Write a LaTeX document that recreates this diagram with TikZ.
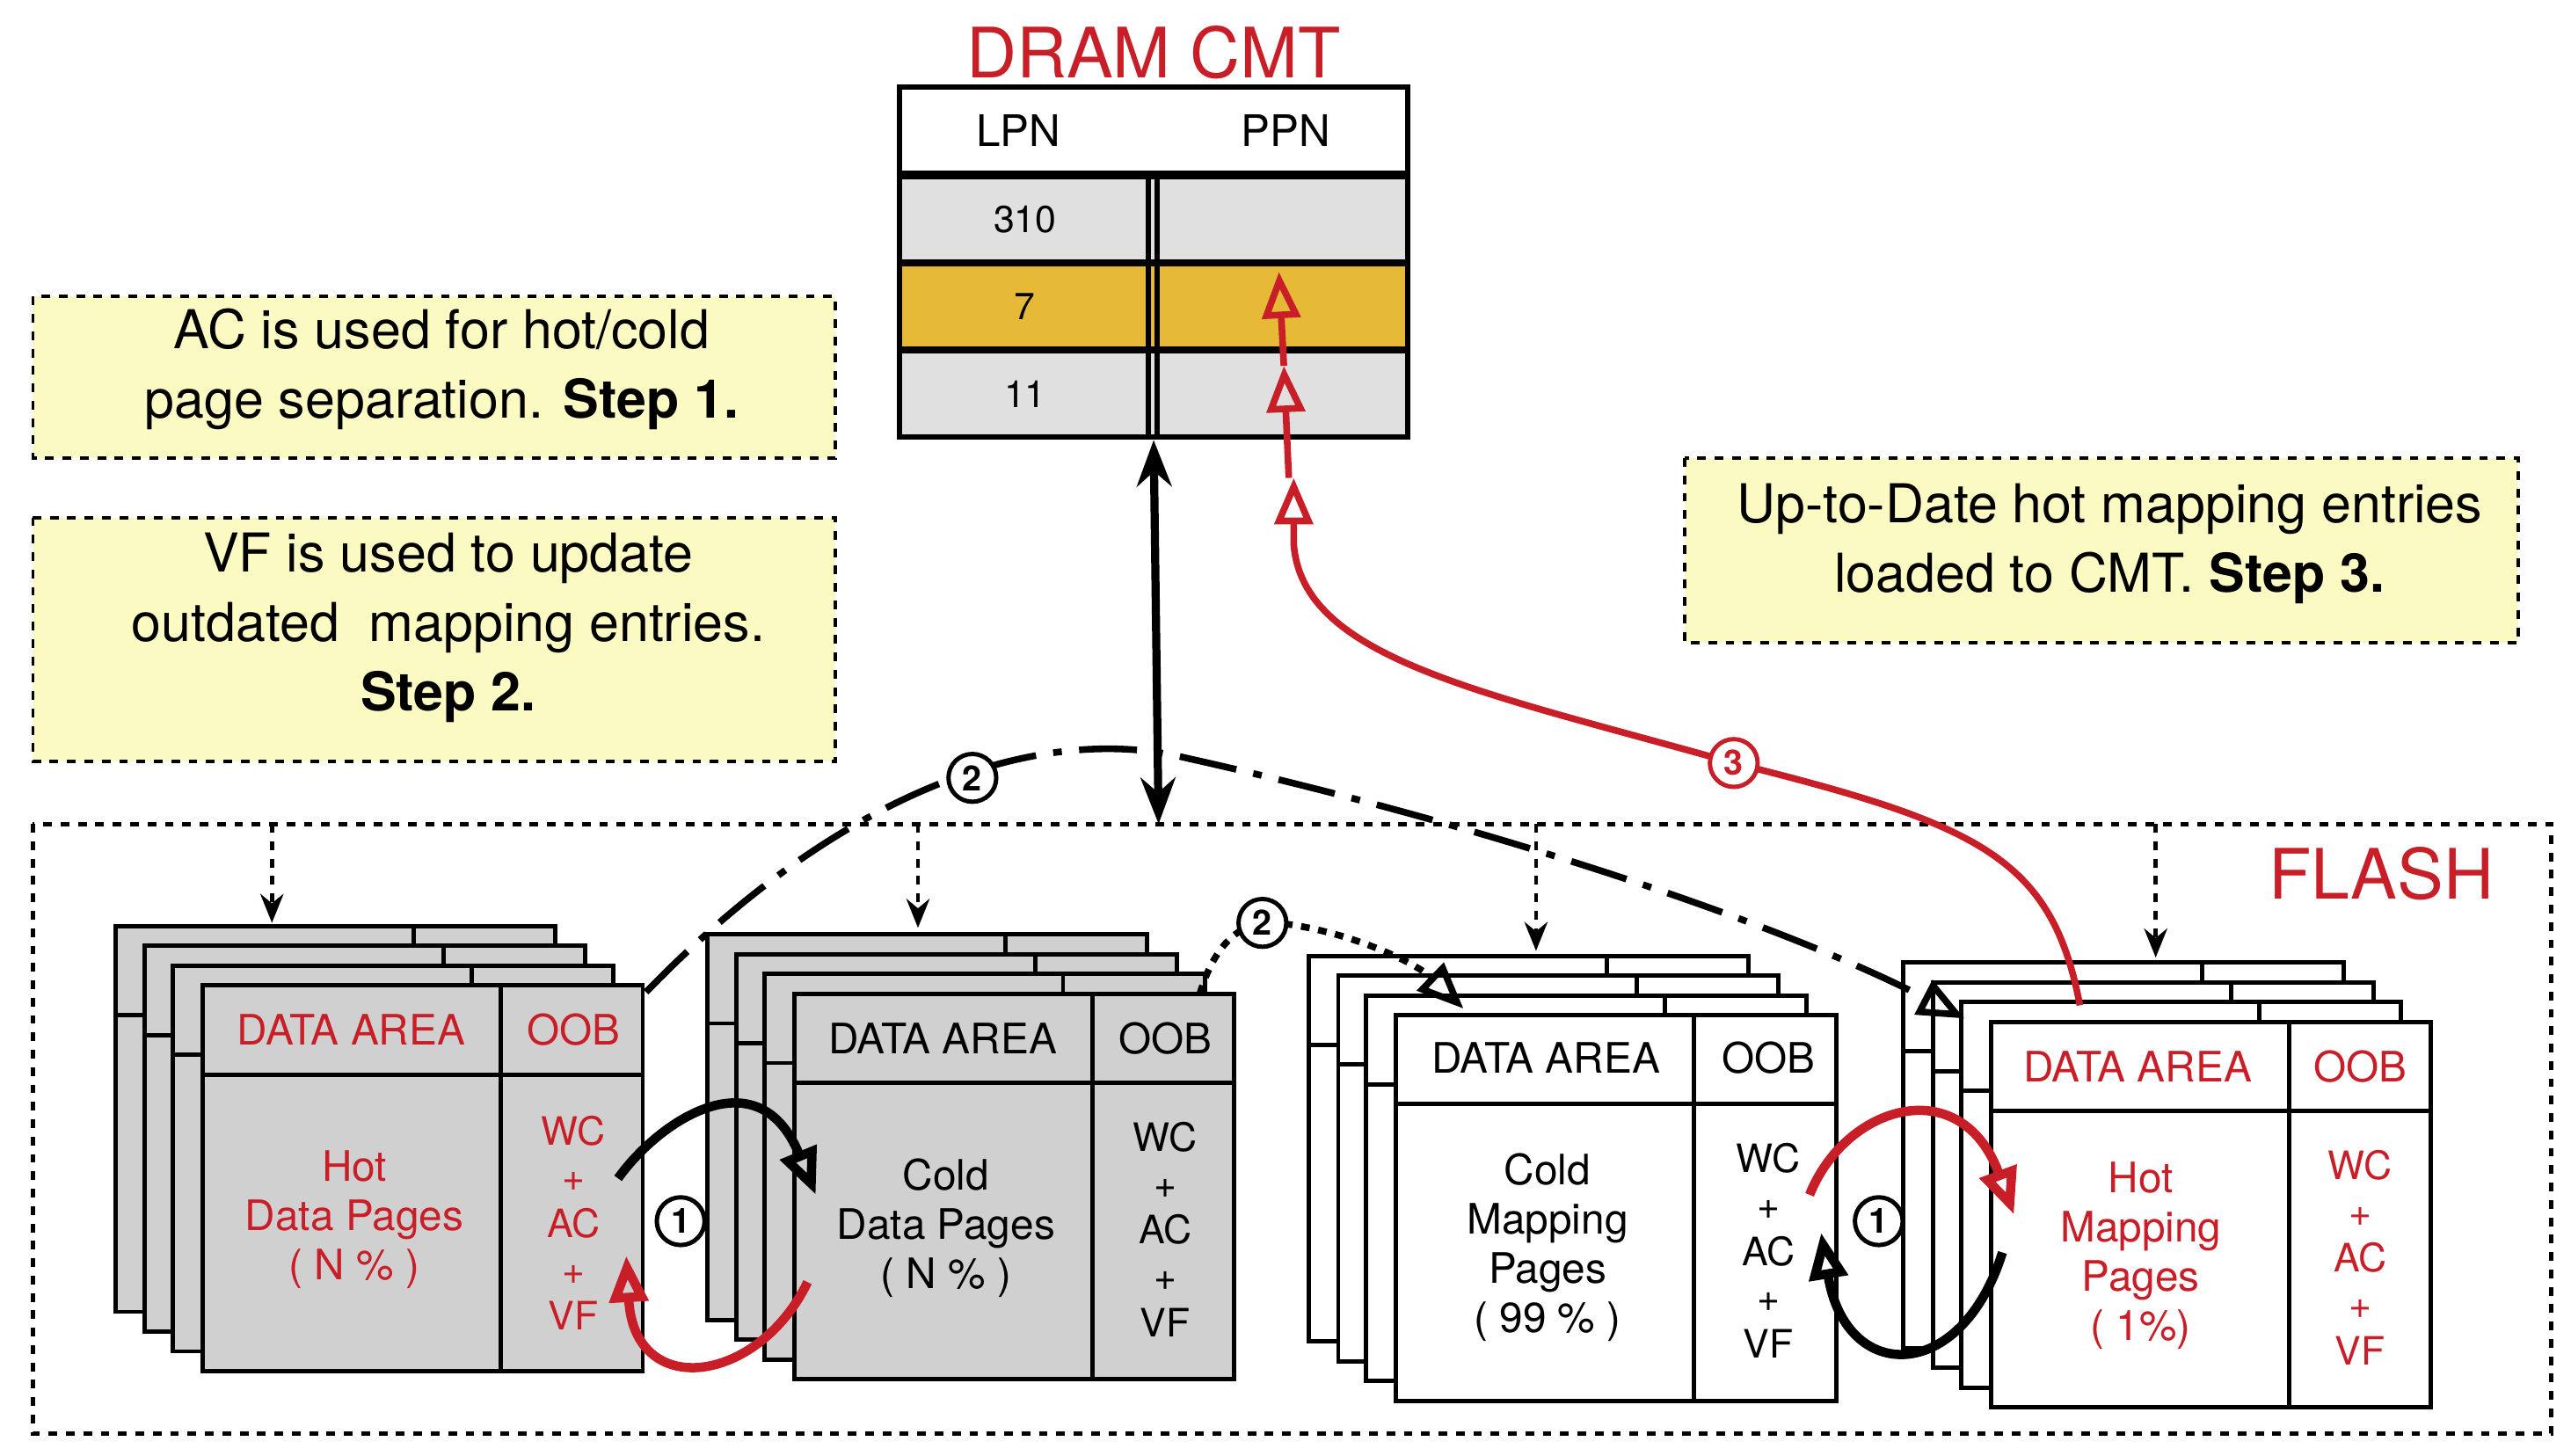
\documentclass[tikz,border=0pt]{standalone}
\usepackage{fontspec}
\setmainfont{TeX Gyre Heros}
\usetikzlibrary{arrows.meta}
\definecolor{myred}{RGB}{200,30,40}
\definecolor{note}{RGB}{252,250,195}
\definecolor{cellg}{RGB}{224,224,224}
\definecolor{pg}{RGB}{208,208,208}
\definecolor{orng}{RGB}{230,185,55}
\newcommand\mypage[3]{\draw[line width=1.5pt,fill=#3] (#1,#2) rectangle ++(267,234);
 \draw[line width=1.5pt] (#1,#2+54)--++(267,0); \draw[line width=1.5pt] (#1+181,#2)--++(0,234);}
\newcommand\mystack[3]{\mypage{#1-53}{#2-36}{#3}\mypage{#1-35}{#2-24}{#3}\mypage{#1-18}{#2-12}{#3}\mypage{#1}{#2}{#3}}
\begin{document}
\begin{tikzpicture}[x=0.02cm,y=-0.02cm,
 notebox/.style={draw,dashed,line width=1.2pt,fill=note},
 nt/.style={font=\fontsize{18.5}{24}\selectfont,align=center},
 ht/.style={font=\fontsize{14.5}{18}\selectfont},
 bt/.style={font=\fontsize{14.5}{17}\selectfont,align=center},
 ob/.style={font=\fontsize{13.5}{14}\selectfont,align=center},
 cnum/.style={circle,draw,line width=1.5pt,fill=white,inner sep=0pt,minimum size=0.58cm,font=\bfseries\fontsize{12}{12}\selectfont},
 opt/.style={-{Triangle[open,length=16pt,width=13pt]}},
 ]
\useasboundingbox (0,0) rectangle (1560,883);
% table
\node[text=myred,font=\fontsize{24}{24}\selectfont] (title) at (700,32) {DRAM CMT};
\draw[line width=1.8pt] (546,53) rectangle (854,105);
\node[font=\fontsize{15}{15}\selectfont] (lpn) at (618,79) {LPN};
\node[font=\fontsize{15}{15}\selectfont] (ppn) at (780,79) {PPN};
\foreach \y/\c in {107/cellg,160/orng,213/cellg}{
 \fill[\c] (546,\y) rectangle (854,\y+52);
 \draw[line width=1.8pt] (546,\y) rectangle (854,\y+52);}
\draw[line width=1.8pt] (697,107)--(697,265) (702,107)--(702,265);
\node[font=\fontsize{13}{13}\selectfont] (c310) at (622,133) {310};
\node[font=\fontsize{13}{13}\selectfont] (c7) at (622,186) {7};
\node[font=\fontsize{13}{13}\selectfont] (c11) at (622,239) {11};
\coordinate (tbot) at (700,267);
% notes
\draw[notebox] (20,180) rectangle (507,278);
\node[nt] (n1) at (268,224) {AC is used for hot/cold\\page separation. \textbf{Step 1.}};
\draw[notebox] (20,314) rectangle (507,462);
\node[nt] (n2) at (272,381) {VF is used to update\\outdated\ \ mapping entries.\\\textbf{Step 2.}};
\draw[notebox] (1022,278) rectangle (1528,390);
\node[nt] (n3) at (1280,330) {Up-to-Date hot mapping entries\\loaded to CMT. \textbf{Step 3.}};
% flash
\draw[dashed,line width=1.5pt] (20,500) rectangle (1548,870);
\node[text=myred,font=\fontsize{24}{24}\selectfont] (flash) at (1445,530) {FLASH};
\foreach \x/\t in {165/560,557/563,932/577,1308/581}
 \draw[dashed,line width=1.4pt,-{Stealth[length=10pt,width=8pt]}] (\x,500)--(\x,\t);
% stacks
\mystack{123}{598}{pg}
\mystack{482}{603}{pg}
\mystack{847}{616}{white}
\mystack{1208}{620}{white}
% stack texts
\node[ht,text=myred] (s1a) at (213,625) {DATA AREA};
\node[ht,text=myred] (s1b) at (348,625) {OOB};
\node[bt,text=myred] (s1c) at (215,740) {Hot\\Data Pages\\( N \% )};
\node[ob,text=myred] (s1d) at (348,742) {WC\\[2pt]+\\[2pt]AC\\[2pt]+\\[2pt]VF};
\node[ht] (s2a) at (572,630) {DATA AREA};
\node[ht] (s2b) at (707,630) {OOB};
\node[bt] (s2c) at (574,745) {Cold\\Data Pages\\( N \% )};
\node[ob] (s2d) at (707,746) {WC\\[2pt]+\\[2pt]AC\\[2pt]+\\[2pt]VF};
\node[ht] (s3a) at (938,642) {DATA AREA};
\node[ht] (s3b) at (1073,642) {OOB};
\node[bt] (s3c) at (939,757) {Cold\\Mapping\\Pages\\( 99 \% )};
\node[ob] (s3d) at (1073,759) {WC\\[2pt]+\\[2pt]AC\\[2pt]+\\[2pt]VF};
\node[ht,text=myred] (s4a) at (1297,647) {DATA AREA};
\node[ht,text=myred] (s4b) at (1432,647) {OOB};
\node[bt,text=myred] (s4c) at (1299,762) {Hot\\Mapping\\Pages\\( 1\%)};
\node[ob,text=myred] (s4d) at (1432,763) {WC\\[2pt]+\\[2pt]AC\\[2pt]+\\[2pt]VF};
% double arrow
\coordinate (ftop) at (703,500);
\draw[line width=2.8pt,{Stealth[length=16pt,width=12pt]}-{Stealth[length=16pt,width=12pt]}] (tbot)--(ftop);
% dash-dot long curve
\coordinate (d1) at (392,602);
\coordinate (d2) at (1192,618);
\draw[line width=2.3pt,dash pattern=on 20pt off 6pt on 3pt off 6pt,opt] (d1) .. controls (520,470) and (640,440) .. (720,460) .. controls (900,500) and (1080,560) .. (d2);
\node[cnum] (k2a) at (590,472) {2};
% short dashed
\coordinate (e1) at (728,603);
\coordinate (e2) at (888,612);
\draw[line width=2.3pt,dashed,opt] (e1) .. controls (738,570) and (755,558) .. (775,560) .. controls (820,565) and (860,585) .. (e2);
\node[cnum] (k2b) at (766,560) {2};
% red step 3
\coordinate (r1) at (1262,610);
\coordinate (r2) at (785,290);
\draw[myred,line width=2.3pt,opt] (r1) .. controls (1245,520) and (1200,500) .. (1052,463) .. controls (900,420) and (790,400) .. (785,330) -- (r2);
\node[cnum,text=myred,draw=myred] (k3) at (1052,463) {3};
\coordinate (r3) at (782,290);
\coordinate (r4) at (779,222);
\coordinate (r5) at (776,165);
\draw[myred,line width=2.3pt,opt] (r3)--(r4);
\draw[myred,line width=2.3pt,opt] (r4)--(r5);
% circle 1 arrows
\coordinate (a1) at (375,715);\coordinate (a2) at (495,725);
\draw[line width=3.2pt,opt] (a1) .. controls (400,680) and (460,640) .. (a2);
\coordinate (a3) at (490,778);\coordinate (a4) at (380,762);
\draw[myred,line width=3.2pt,opt] (a3) .. controls (460,840) and (385,850) .. (a4);
\node[cnum] (k1a) at (413,741) {1};
\coordinate (b1) at (1098,725);\coordinate (b2) at (1222,737);
\draw[myred,line width=3.2pt,opt] (b1) .. controls (1120,670) and (1190,650) .. (b2);
\coordinate (b3) at (1215,760);\coordinate (b4) at (1105,748);
\draw[line width=3.2pt,opt] (b3) .. controls (1190,840) and (1120,840) .. (b4);
\node[cnum] (k1b) at (1140,741) {1};
\end{tikzpicture}
\end{document}
